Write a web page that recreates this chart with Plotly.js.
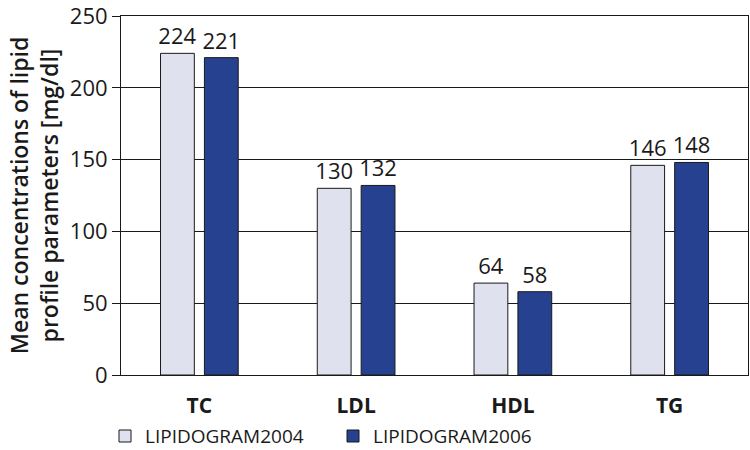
<!DOCTYPE html>
<html>
<head>
<meta charset="utf-8">
<script src="https://cdn.plot.ly/plotly-3.0.1.min.js"></script>
<style>html,body{margin:0;padding:0;background:#fff;}#chart{width:750px;height:450px;}</style>
</head>
<body>
<div id="chart"></div>
<script>
const categories = ["TC", "LDL", "HDL", "TG"];
const seriesNames = ["LIPIDOGRAM2004", "LIPIDOGRAM2006"];
const values2004 = [224, 130, 64, 146];
const values2006 = [221, 132, 58, 148];
const yTickVals = [0, 50, 100, 150, 200, 250];

const FONT = "Open Sans, Noto Sans, sans-serif";
const txt = "#1a1a1a";

const traces = [
  {
    type: "bar", name: seriesNames[0], x: categories, y: values2004,
    text: values2004.map(String), textposition: "outside", constraintext: "none",
    textfont: {family: FONT, size: 22, color: txt},
    marker: {color: "#dfe1ee", line: {color: "#1a1a1a", width: 1}},
    cliponaxis: false
  },
  {
    type: "bar", name: seriesNames[1], x: categories, y: values2006,
    text: values2006.map(String), textposition: "outside", constraintext: "none",
    textfont: {family: FONT, size: 22, color: txt},
    marker: {color: "#26418f", line: {color: "#1a1a1a", width: 1}},
    cliponaxis: false
  }
];

const layout = {
  width: 750, height: 450,
  margin: {l: 121, r: 2, t: 16, b: 75},
  paper_bgcolor: "#fff", plot_bgcolor: "#fff",
  font: {family: FONT, color: txt},
  barmode: "group", bargap: 0.44, bargroupgap: 0.23,
  showlegend: true,
  legend: {
    orientation: "h", xref: "container", yref: "container",
    x: 0.14, xanchor: "left", y: 0.073, yanchor: "top",
    font: {family: FONT, size: 19, color: txt},
    itemwidth: 30, tracegroupgap: 0,
    entrywidth: 183, entrywidthmode: "pixels"
  },
  xaxis: {
    type: "category",
    showline: true, mirror: true, linecolor: "#1a1a1a", linewidth: 1,
    ticks: "", showgrid: false, ticklabelstandoff: 12,
    tickfont: {family: FONT, size: 21, color: txt, weight: "bold"}
  },
  yaxis: {
    range: [0, 250], tickvals: yTickVals, ticktext: yTickVals.map(String),
    ticklabeloverflow: "allow",
    showline: true, mirror: true, linecolor: "#1a1a1a", linewidth: 1,
    ticks: "outside", ticklen: 8, tickcolor: "#1a1a1a", tickwidth: 1,
    showgrid: true, gridcolor: "#1a1a1a", gridwidth: 1, zeroline: false,
    tickfont: {family: FONT, size: 22, color: txt},
    title: {
      text: "Mean concentrations of lipid<br>profile parameters [mg/dl]",
      font: {family: FONT, size: 23, color: txt, weight: 600},
      standoff: 4
    }
  }
};

Plotly.newPlot("chart", traces, layout, {displayModeBar: false, staticPlot: true});
</script>
</body>
</html>
